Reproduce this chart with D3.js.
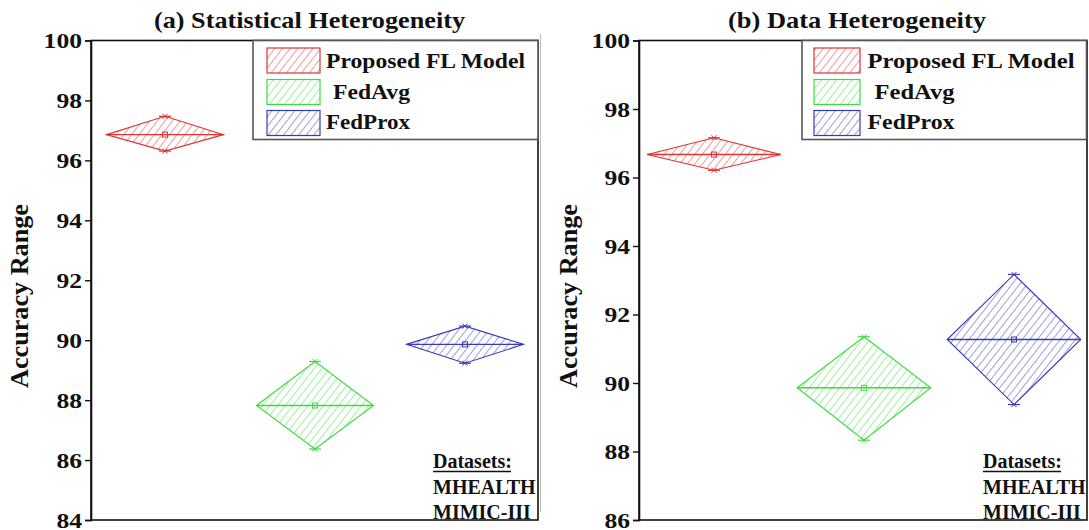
<!DOCTYPE html>
<html>
<head>
<meta charset="utf-8">
<script src="https://cdn.jsdelivr.net/npm/d3@7"></script>
<style>
  html, body { margin: 0; padding: 0; background: #fff; }
  svg { display: block; }
  text { font-family: "Liberation Serif", "Times New Roman", serif; font-weight: bold; fill: #111; }
</style>
</head>
<body>
<svg id="chart" width="1089" height="530"></svg>
<script>
// ---- data ----
const categories = ["Proposed FL Model", "FedAvg", "FedProx"];
const legendLabels = ["Proposed FL Model", " FedAvg", "FedProx"];
const colors = ["#dd3535", "#3fdc3f", "#3a3ab8"];

const statMean = [96.86, 87.82, 89.86];
const statMax  = [97.47, 89.29, 90.47];
const statMin  = [96.31, 86.37, 89.23];

const dataMean = [96.67, 89.86, 91.27];
const dataMax  = [97.16, 91.35, 93.17];
const dataMin  = [96.21, 88.33, 89.37];

const statTicks = [84, 86, 88, 90, 92, 94, 96, 98, 100];
const dataTicks = [86, 88, 90, 92, 94, 96, 98, 100];

const titles = ["(a) Statistical Heterogeneity", "(b) Data Heterogeneity"];
const yLabel = "Accuracy Range";
const datasetLines = ["Datasets:", "MHEALTH", "MIMIC-III"];

// ---- layout ----
const FONT = '"Liberation Serif", "Times New Roman", serif';
const svg = d3.select("#chart");
const defs = svg.append("defs");
colors.forEach((c, i) => {
  const p = defs.append("pattern")
    .attr("id", "hatch" + i)
    .attr("patternUnits", "userSpaceOnUse")
    .attr("width", 6).attr("height", 6)
    .attr("patternTransform", "rotate(38)");
  p.append("line").attr("x1", 0).attr("y1", -1).attr("x2", 0).attr("y2", 7)
    .attr("stroke", c).attr("stroke-width", 1.1).attr("opacity", 0.9);
});

// separator
svg.append("line").attr("x1", 540.5).attr("x2", 540.5).attr("y1", 34).attr("y2", 512)
  .attr("stroke", "#bbbbbb").attr("stroke-width", 1);

const panels = [
  { mean: statMean, max: statMax, min: statMin, ticks: statTicks, domain: [84, 100],
    frame: [91, 538], xr: [90, 540], hw: 0.39, title: titles[0], titleX: 309.5, titleLen: 311,
    yLabX: 28, legend: { x0: 253, x1: 538, swX: 267, swW: 53, txtX: 326, lens: [199, 77, 84] },
    dsX: 433 },
  { mean: dataMean, max: dataMax, min: dataMin, ticks: dataTicks, domain: [86, 100],
    frame: [639, 1087], xr: [639, 1089], hw: 0.445, title: titles[1], titleX: 857, titleLen: 258,
    yLabX: 577, legend: { x0: 802, x1: 1086.5, swX: 814, swW: 46, txtX: 867.5, lens: [207, 80, 87] },
    dsX: 983 }
];

const yTop = 40.5, yBottom = 520;

panels.forEach(P => {
  const g = svg.append("g");
  const y = d3.scaleLinear().domain(P.domain).range([yBottom, yTop]);
  const x = d3.scaleBand().domain(categories).range(P.xr);

  // diamonds
  categories.forEach((cat, i) => {
    const cx = x(cat) + x.bandwidth() / 2;
    const hw = x.bandwidth() * P.hw;
    const ym = y(P.mean[i]), yt = y(P.max[i]), yb = y(P.min[i]);
    const pts = [[cx - hw, ym], [cx, yt], [cx + hw, ym], [cx, yb]];
    g.append("polygon").attr("points", pts.map(p => p.join(",")).join(" "))
      .attr("fill", `url(#hatch${i})`).attr("stroke", colors[i]).attr("stroke-width", 1.1);
    g.append("line").attr("x1", cx - hw).attr("x2", cx + hw).attr("y1", ym).attr("y2", ym)
      .attr("stroke", colors[i]).attr("stroke-width", 1.4);
    [yt, yb].forEach(yy => {
      g.append("line").attr("x1", cx - 6).attr("x2", cx + 6).attr("y1", yy).attr("y2", yy)
        .attr("stroke", colors[i]).attr("stroke-width", 1.2);
      g.append("path").attr("d", `M${cx-2.5},${yy-2.5}L${cx+2.5},${yy+2.5}M${cx-2.5},${yy+2.5}L${cx+2.5},${yy-2.5}`)
        .attr("stroke", colors[i]).attr("stroke-width", 1);
    });
    g.append("rect").attr("x", cx - 2.5).attr("y", ym - 2.5).attr("width", 5).attr("height", 5)
      .attr("fill", "none").attr("stroke", colors[i]).attr("stroke-width", 1);
  });

  // frame
  g.append("rect").attr("x", P.frame[0]).attr("y", yTop).attr("width", P.frame[1] - P.frame[0])
    .attr("height", yBottom - yTop).attr("fill", "none").attr("stroke", "#111").attr("stroke-width", 1.6);

  // y axis
  const ax = g.append("g").attr("transform", `translate(${P.frame[0]},0)`)
    .call(d3.axisLeft(y).tickValues(P.ticks).tickSize(6).tickPadding(3).tickFormat(d3.format("d")));
  ax.select(".domain").attr("stroke", "#111").attr("stroke-width", 1.6);
  ax.selectAll(".tick line").attr("stroke", "#111").attr("stroke-width", 1.4);
  ax.selectAll(".tick text")
    .style("font-family", FONT)
    .style("font-weight", "bold").attr("font-size", 22).attr("fill", "#111")
    .attr("dy", "0.32em")
    .attr("textLength", d => String(d).length * 12.8)
    .attr("lengthAdjust", "spacingAndGlyphs");

  // title
  g.append("text").attr("x", P.titleX).attr("y", 28).attr("text-anchor", "middle")
    .attr("font-size", 24).attr("textLength", P.titleLen).attr("lengthAdjust", "spacingAndGlyphs")
    .text(P.title);

  // y label
  g.append("text").attr("transform", `translate(${P.yLabX},296) rotate(-90)`)
    .attr("text-anchor", "middle").attr("font-size", 26)
    .attr("textLength", 184).attr("lengthAdjust", "spacingAndGlyphs").text(yLabel);

  // legend
  const L = P.legend;
  g.append("rect").attr("x", L.x0).attr("y", yTop).attr("width", L.x1 - L.x0).attr("height", 99)
    .attr("fill", "#fff").attr("stroke", "#555").attr("stroke-width", 1.6);
  const rowsY = [48, 79.5, 110.5];
  const baseY = [67.5, 98.5, 129.3];
  legendLabels.forEach((lab, i) => {
    g.append("rect").attr("x", L.swX).attr("y", rowsY[i]).attr("width", L.swW).attr("height", 25)
      .attr("fill", `url(#hatch${i})`).attr("stroke", colors[i]).attr("stroke-width", 1.2);
    const tx = L.txtX + (lab.startsWith(" ") ? 7 : 0);
    g.append("text").attr("x", tx).attr("y", baseY[i]).attr("font-size", 22)
      .attr("textLength", L.lens[i]).attr("lengthAdjust", "spacingAndGlyphs")
      .text(lab.trim());
  });

  // datasets annotation
  const dsY = [468, 493.5, 518.5];
  datasetLines.forEach((t, i) => {
    g.append("text").attr("x", P.dsX).attr("y", dsY[i]).attr("font-size", 20).text(t);
  });
  g.append("line").attr("x1", P.dsX).attr("x2", P.dsX + 78).attr("y1", 471.5).attr("y2", 471.5)
    .attr("stroke", "#111").attr("stroke-width", 1.5);
});
</script>
</body>
</html>
